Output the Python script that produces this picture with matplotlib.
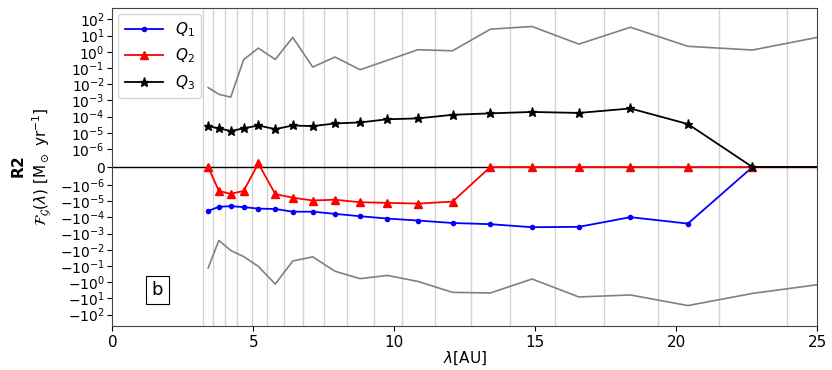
import numpy as np
import matplotlib
matplotlib.use("Agg")
import matplotlib.pyplot as plt
from matplotlib.ticker import FixedLocator, NullLocator

# bin centres (lambda in AU); the last one lies just past the x-limit
lam = [3.40, 3.78, 4.20, 4.66, 5.18, 5.78, 6.40, 7.11, 7.90, 8.79,
       9.76, 10.84, 12.07, 13.41, 14.89, 16.55, 18.38, 20.42, 22.71, 25.23]

# bin edges drawn as light vertical lines
edges = [3.23, 3.58, 3.98, 4.41, 4.96, 5.49, 6.09, 6.78, 7.51, 8.33,
         9.27, 10.29, 11.43, 12.72, 14.11, 15.70, 17.43, 19.37, 21.54, 23.95]

Q1 = [-4.0e-5, -2.2e-5, -2.0e-5, -2.3e-5, -2.85e-5, -3.0e-5, -4.4e-5, -4.4e-5,
      -6.0e-5, -8.4e-5, -1.17e-4, -1.55e-4, -2.2e-4, -2.6e-4, -4.0e-4, -3.8e-4,
      -9.6e-5, -2.4e-4, 0.0, 0.0]
Q2 = [0.0, -2.3e-6, -3.5e-6, -2.3e-6, 2e-7, -3.6e-6, -6.0e-6, -9.0e-6,
      -8.0e-6, -1.15e-5, -1.25e-5, -1.4e-5, -1.05e-5, 0.0, 0.0, 0.0,
      0.0, 0.0, 0.0, 0.0]
Q3 = [2.6e-5, 1.9e-5, 1.3e-5, 1.9e-5, 2.85e-5, 1.7e-5, 2.85e-5, 2.6e-5,
      3.8e-5, 4.4e-5, 6.9e-5, 7.8e-5, 1.3e-4, 1.6e-4, 1.95e-4, 1.7e-4,
      3.2e-4, 3.5e-5, 0.0, 0.0]

# grey envelopes (upper / lower)
env_hi = [6.2e-3, 2.4e-3, 1.6e-3, 0.33, 1.7, 0.34, 7.8, 0.115, 0.48, 0.079,
          0.30, 1.35, 1.17, 25.0, 37.0, 3.0, 33.0, 2.2, 1.3, 9.3]
env_lo = [-0.13, -2.6e-3, -0.011, -0.026, -0.105, -1.3, -0.049, -0.027, -0.21, -0.60,
          -0.38, -0.89, -4.2, -4.6, -0.63, -8.1, -6.1, -27.5, -4.9, -1.26]

exps = list(range(-6, 3))
yticks = [-10.0 ** e for e in exps[::-1]] + [0.0] + [10.0 ** e for e in exps]
yticklabels = ([r"$-10^{%d}$" % e for e in exps[::-1]] + ["0"]
               + [r"$10^{%d}$" % e for e in exps])

fig = plt.figure(figsize=(8.32, 3.70), dpi=100)
ax = fig.add_axes([0.135, 0.119, 0.847, 0.859])

for e in edges:
    ax.axvline(e, color="#d3d3d3", lw=1.0, zorder=0)

ax.axhline(0, color="black", lw=1.0, zorder=1)

ax.plot(lam, env_hi, color="grey", lw=1.2, zorder=2)
ax.plot(lam, env_lo, color="grey", lw=1.2, zorder=2)

ax.plot(lam, Q1, "-", marker="o", ms=3, color="blue", lw=1.3, label=r"$Q_1$", zorder=3)
ax.plot(lam, Q2, "-", marker="^", ms=6, color="red", lw=1.3, label=r"$Q_2$", zorder=4)
ax.plot(lam, Q3, "-", marker="*", ms=6.5, color="black", lw=1.3, label=r"$Q_3$", zorder=5)

ax.set_yscale("symlog", linthresh=1e-6, linscale=1)
ax.set_ylim(-500, 500)
ax.set_xlim(0, 25)
ax.yaxis.set_major_locator(FixedLocator(yticks))
ax.set_yticklabels(yticklabels)
ax.yaxis.set_minor_locator(NullLocator())
ax.tick_params(axis="y", labelsize=10, pad=2)
ax.tick_params(axis="x", labelsize=11, pad=3)

ax.set_xlabel(r"$\lambda$[AU]", fontsize=11, labelpad=0)
ax.set_ylabel(r"$\bf{R2}$" + "\n" + r"$\mathcal{F}_\mathcal{G}(\lambda)$ [M$_\odot$ yr$^{-1}$]",
              fontsize=11, labelpad=4)

ax.text(1.6, 0.113, "b", transform=ax.get_xaxis_transform(), fontsize=13,
        ha="center", va="center",
        bbox=dict(boxstyle="square,pad=0.3", fc="white", ec="black", lw=0.8))

ax.legend(loc="upper left", fontsize=11, handlelength=2.5, borderaxespad=0.4)

for s in ax.spines.values():
    s.set_color("#444444")

fig.savefig("out.png", dpi=100)
